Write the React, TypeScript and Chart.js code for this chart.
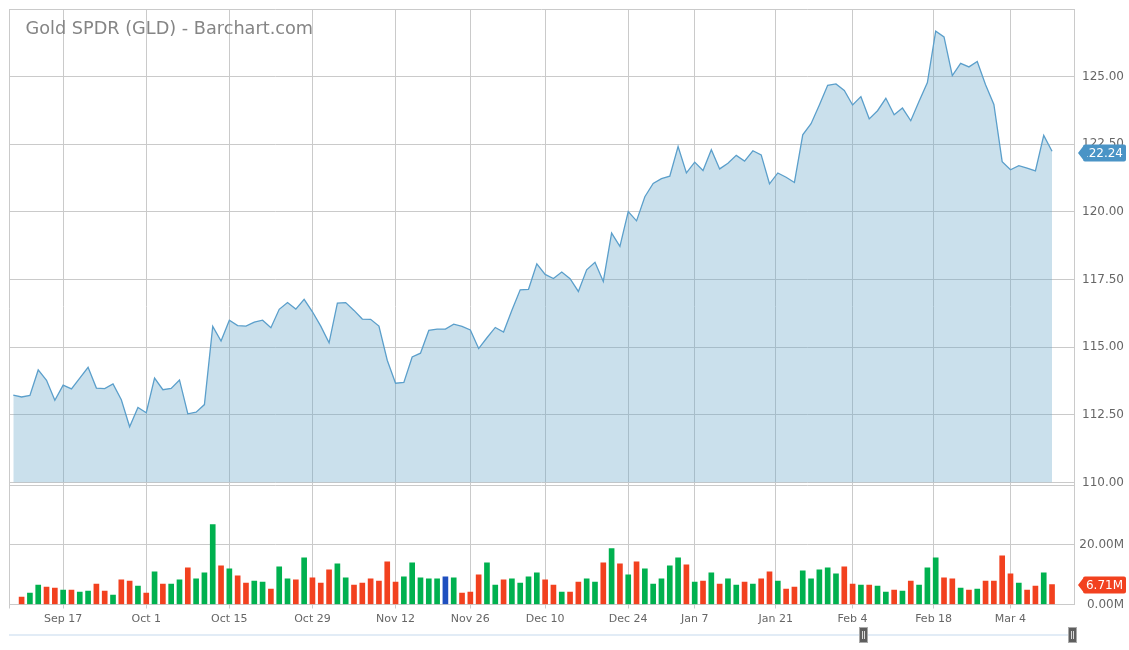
import React, { useEffect, useRef } from 'react';
import { Chart, registerables } from 'chart.js';

Chart.register(...registerables);

// ---- DATA ----
const chartTitle = 'Gold SPDR (GLD) - Barchart.com';

// daily closes (first point is the session before the first volume bar)
const prices = [
  113.23, 113.16, 113.22, 114.16, 113.78, 113.04, 113.60, 113.46, 113.86, 114.26,
  113.49, 113.47, 113.64, 113.06, 112.06, 112.77, 112.58, 113.86, 113.43, 113.48,
  113.79, 112.54, 112.60, 112.88, 115.77, 115.23, 116.00, 115.80, 115.78, 115.93,
  116.00, 115.72, 116.40, 116.65, 116.41, 116.77, 116.31, 115.78, 115.16, 116.63,
  116.65, 116.36, 116.04, 116.03, 115.78, 114.52, 113.67, 113.70, 114.64, 114.78,
  115.62, 115.67, 115.67, 115.85, 115.77, 115.64, 114.95, 115.35, 115.73, 115.56,
  116.37, 117.12, 117.14, 118.08, 117.69, 117.54, 117.78, 117.53, 117.06, 117.86,
  118.14, 117.43, 119.22, 118.73, 120.01, 119.67, 120.56, 121.05, 121.23, 121.32,
  122.42, 121.44, 121.84, 121.53, 122.30, 121.59, 121.80, 122.09, 121.88, 122.26,
  122.11, 121.04, 121.44, 121.28, 121.09, 122.85, 123.26, 123.95, 124.68, 124.73,
  124.49, 123.95, 124.26, 123.44, 123.74, 124.20, 123.59, 123.84, 123.37, 124.09,
  124.78, 126.68, 126.47, 125.04, 125.49, 125.36, 125.56, 124.70, 123.97, 121.86,
  121.56, 121.71, 121.62, 121.52, 122.83, 122.24,
];

// daily volume, millions of shares
const volumes = [
  2.49, 3.84, 6.55, 5.88, 5.54, 4.86, 4.86, 4.18, 4.52, 6.89,
  4.52, 3.16, 8.25, 7.91, 6.21, 3.84, 10.96, 6.89, 6.89, 8.25,
  12.32, 8.59, 10.62, 26.9, 13.0, 11.98, 9.6, 7.23, 7.91, 7.57,
  5.2, 12.66, 8.59, 8.25, 15.7, 8.93, 7.23, 11.64, 13.67, 8.93,
  6.55, 7.23, 8.59, 7.91, 14.35, 7.57, 9.27, 14.0, 8.93, 8.59,
  8.59, 9.27, 8.93, 3.84, 4.18, 9.94, 14.0, 6.55, 8.25, 8.59,
  7.23, 9.27, 10.62, 8.25, 6.55, 4.18, 4.18, 7.57, 8.59, 7.57,
  14.0, 18.76, 13.67, 9.94, 14.35, 11.98, 6.89, 8.59, 13.0, 15.7,
  13.33, 7.57, 7.91, 10.62, 6.89, 8.59, 6.55, 7.57, 6.89, 8.59,
  10.96, 7.91, 5.2, 5.88, 11.3, 8.59, 11.64, 12.32, 10.28, 12.66,
  6.89, 6.55, 6.55, 6.21, 4.18, 4.86, 4.52, 7.91, 6.55, 12.32,
  15.7, 8.93, 8.59, 5.54, 4.86, 5.2, 7.91, 7.91, 16.38, 10.28,
  7.23, 4.86, 6.21, 10.62, 6.71,
];

// date ticks: trading-day index of each label (holidays fall between sessions)
const dateTickIndex = [5, 15, 25, 35, 45, 54, 63, 73, 81, 90.75, 100, 109.75, 119];
const dateTickLabels = [
  'Sep 17', 'Oct 1', 'Oct 15', 'Oct 29', 'Nov 12', 'Nov 26', 'Dec 10',
  'Dec 24', 'Jan 7', 'Jan 21', 'Feb 4', 'Feb 18', 'Mar 4',
];
const priceTicks = [110, 112.5, 115, 117.5, 120, 122.5, 125];
const volumeTicks = [0, 20, 40];

// ---- STYLE ----
const FONT = '"DejaVu Sans", Verdana, sans-serif';
const GRID = '#cacaca';
const UP = '#00b14f';
const DOWN = '#f2411f';
const FLAT = '#1f4fbf';
const LINE = '#5b9fcb';
const FILL = 'rgba(104,166,201,0.35)';

function tag(ctx: CanvasRenderingContext2D, y: number, color: string, text: string, clipLeft: number) {
  const tip = 1078;
  const left = 1083;
  const right = 1126;
  const h = 17;
  const top = Math.round(y - h / 2) + 0.5;
  ctx.fillStyle = color;
  ctx.beginPath();
  ctx.moveTo(tip, top + h / 2);
  ctx.lineTo(left, top + 2);
  ctx.quadraticCurveTo(left, top, left + 2, top);
  ctx.lineTo(right - 2, top);
  ctx.quadraticCurveTo(right, top, right, top + 2);
  ctx.lineTo(right, top + h - 2);
  ctx.quadraticCurveTo(right, top + h, right - 2, top + h);
  ctx.lineTo(left + 2, top + h);
  ctx.quadraticCurveTo(left, top + h, left, top + h - 2);
  ctx.closePath();
  ctx.fill();
  ctx.save();
  ctx.beginPath();
  ctx.rect(clipLeft, top, right - clipLeft, h);
  ctx.clip();
  ctx.fillStyle = '#ffffff';
  ctx.font = '12px ' + FONT;
  ctx.textAlign = 'right';
  ctx.textBaseline = 'middle';
  ctx.fillText(text, 1123, top + h / 2 + 0.5);
  ctx.restore();
}

function handle(ctx: CanvasRenderingContext2D, x: number) {
  ctx.fillStyle = '#aaaaaa';
  ctx.fillRect(x, 627, 9, 16);
  ctx.fillStyle = '#5e5e5e';
  ctx.fillRect(x + 1, 628, 7, 14);
  ctx.fillStyle = '#d8d8d8';
  ctx.fillRect(x + 3, 631, 1, 8);
  ctx.fillRect(x + 5, 631, 1, 8);
}

const overlayPlugin = {
  id: 'overlay',
  afterDraw(chart: any) {
    const { ctx, chartArea: a, scales } = chart;
    ctx.save();
    ctx.strokeStyle = GRID;
    ctx.lineWidth = 1;
    ctx.beginPath();
    ctx.moveTo(a.left + 0.5, a.top);
    ctx.lineTo(a.left + 0.5, a.bottom + 4);
    ctx.moveTo(a.left, a.top + 0.5);
    ctx.lineTo(a.right, a.top + 0.5);
    ctx.stroke();

    ctx.font = '17.7px ' + FONT;
    ctx.fillStyle = '#858585';
    ctx.textAlign = 'left';
    ctx.textBaseline = 'alphabetic';
    ctx.fillText(chartTitle, 25.5, 34);

    const lastPrice = prices[prices.length - 1];
    const lastVol = volumes[volumes.length - 1];
    tag(ctx, scales.yPrice.getPixelForValue(lastPrice) + 1, '#4a94c6', lastPrice.toFixed(2), 1087);
    tag(ctx, scales.yVol.getPixelForValue(lastVol), DOWN, lastVol.toFixed(2) + 'M', 1080);

    // navigator strip
    ctx.fillStyle = '#e2ecf6';
    ctx.fillRect(a.left, 634, a.right - a.left, 2);
    handle(ctx, 859);
    handle(ctx, 1068);
    ctx.restore();
  },
};

function noPad(axis: any) {
  axis.paddingTop = 0;
  axis.paddingBottom = 0;
  axis.paddingLeft = 0;
  axis.paddingRight = 0;
}

export default function App() {
  const ref = useRef<HTMLCanvasElement | null>(null);

  useEffect(() => {
    if (!ref.current) return;
    const priceData = prices.map((p, i) => ({ x: i - 1, y: p }));
    const volData = volumes.map((v, i) => ({ x: i, y: v }));
    const volColors = volumes.map((_, i) => {
      const d = prices[i + 1] - prices[i];
      return d > 0 ? UP : d < 0 ? DOWN : FLAT;
    });
    const x0 = 21.6;
    const step = 8.31;

    const chart = new Chart(ref.current, {
      type: 'bar',
      data: {
        datasets: [
          {
            type: 'line',
            data: priceData as any,
            xAxisID: 'x',
            yAxisID: 'yPrice',
            borderColor: LINE,
            borderWidth: 1.3,
            backgroundColor: FILL,
            fill: 'start',
            pointRadius: 0,
            tension: 0,
          } as any,
          {
            type: 'bar',
            data: volData as any,
            xAxisID: 'x',
            yAxisID: 'yVol',
            backgroundColor: volColors,
            barThickness: 5,
          } as any,
        ],
      },
      options: {
        responsive: false,
        devicePixelRatio: 1,
        animation: false,
        layout: { padding: { left: 9, top: 9, right: 5, bottom: 0 } },
        plugins: { legend: { display: false }, tooltip: { enabled: false }, title: { display: false } },
        scales: {
          x: {
            type: 'linear',
            position: 'bottom',
            offset: false,
            min: (9 - x0) / step,
            max: (1074 - x0) / step,
            afterBuildTicks: (axis: any) => {
              axis.ticks = dateTickIndex.map((v) => ({ value: v }));
            },
            afterFit: (axis: any) => {
              axis.height = 45.5;
              noPad(axis);
            },
            grid: { color: GRID, offset: false, drawTicks: true, tickLength: 4, tickColor: GRID },
            border: { display: true, color: GRID },
            ticks: {
              autoSkip: false,
              maxRotation: 0,
              padding: 4,
              color: '#666666',
              font: { family: FONT, size: 11 },
              callback: (_v: any, i: number) => dateTickLabels[i],
            },
          },
          yPrice: {
            type: 'linear',
            position: 'right',
            stack: 'panels',
            stackWeight: 473.5,
            min: 110,
            max: 127.5,
            afterBuildTicks: (axis: any) => {
              axis.ticks = priceTicks.map((v) => ({ value: v }));
            },
            afterFit: (axis: any) => {
              axis.width = 50;
              noPad(axis);
            },
            grid: { color: GRID, drawTicks: false },
            border: { display: true, color: GRID },
            ticks: {
              autoSkip: false,
              crossAlign: 'far',
              padding: 6,
              color: '#666666',
              font: { family: FONT, size: 12 },
              callback: (v: any) => Number(v).toFixed(2),
            },
          },
          yVol: {
            type: 'linear',
            position: 'right',
            stack: 'panels',
            stackWeight: 122,
            min: 0,
            max: 41,
            afterBuildTicks: (axis: any) => {
              axis.ticks = volumeTicks.map((v) => ({ value: v }));
            },
            afterFit: (axis: any) => {
              axis.width = 50;
              noPad(axis);
            },
            grid: { color: GRID, drawTicks: false },
            border: { display: true, color: GRID },
            ticks: {
              autoSkip: false,
              crossAlign: 'far',
              padding: 6,
              color: '#666666',
              font: { family: FONT, size: 12 },
              callback: (v: any) => (Number(v) === 40 ? '' : Number(v).toFixed(2) + 'M'),
            },
          },
        },
      } as any,
      plugins: [overlayPlugin],
    });
    return () => chart.destroy();
  }, []);

  return (
    <div style={{ position: 'fixed', left: 0, top: 0, width: 1129, height: 650, background: '#fff' }}>
      <canvas ref={ref} width={1129} height={650} style={{ display: 'block' }} />
    </div>
  );
}
